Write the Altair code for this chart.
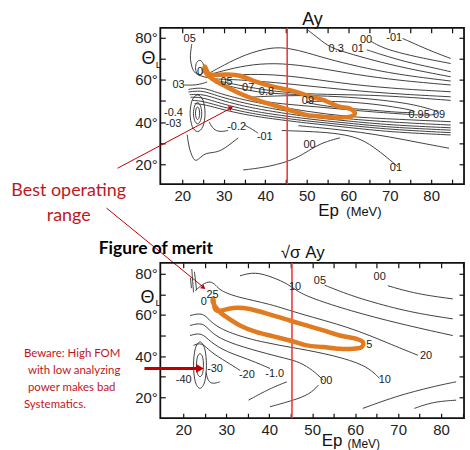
import altair as alt
import pandas as pd

# ===================== TOP PANEL: Ay  (x = Ep [MeV], y = theta_L [deg]) =====================
A_m01 = [(73.1, 79.7), (77.0, 76.3), (80.5, 73.3), (84.7, 70.2)]
A_00 = [(65.5, 78.3), (68.0, 75.5), (72.0, 73.0), (78.0, 70.3), (84.7, 67.8)]
A_01 = [(64.5, 74.3), (68.0, 72.0), (74.0, 68.5), (80.0, 66.0), (84.7, 63.9)]
A_03 = [(50.3, 83.6), (53.0, 79.5), (55.5, 75.5), (59.5, 73.0), (66.0, 69.3), (74.0, 65.5), (84.7, 61.5)]
A_fan1 = [(26.3, 63.0), (30.0, 67.0), (35.0, 72.0), (41.5, 75.7), (46.0, 75.0), (50.0, 73.0),
          (55.0, 70.0), (62.0, 66.5), (72.0, 62.5), (84.7, 59.5)]
A_fan2 = [(26.5, 62.5), (31.0, 65.0), (37.0, 67.5), (44.0, 68.0), (52.0, 66.0), (62.0, 62.5),
          (72.0, 59.8), (84.7, 57.6)]
A_fan3 = [(27.0, 61.5), (33.0, 62.5), (40.0, 62.8), (48.0, 61.5), (58.0, 58.5), (70.0, 56.0), (84.7, 54.4)]
A_fan4 = [(27.5, 60.5), (35.0, 60.0), (45.0, 58.3), (55.0, 56.2), (65.0, 54.3), (75.0, 53.0), (84.7, 52.0)]
A_in05 = [(27.5, 60.0), (31.0, 58.6), (36.0, 56.6), (42.0, 54.6), (50.0, 53.3), (60.0, 53.0),
          (70.0, 52.5), (84.7, 50.3)]
A_in07 = [(28.0, 58.5), (33.0, 56.3), (38.0, 54.2), (44.0, 53.3), (50.0, 53.0)]
A_b1 = [(21.5, 55.5), (24.5, 56.5), (27.0, 55.0), (30.0, 53.0), (35.0, 50.5), (40.0, 48.5), (50.0, 45.0),
        (60.0, 42.5), (70.0, 41.5), (84.7, 40.2)]
A_b2 = [(21.5, 54.3), (24.5, 55.0), (27.0, 53.5), (30.0, 51.5), (35.0, 49.0), (40.0, 47.0), (50.0, 43.5),
        (60.0, 41.5), (70.0, 40.0), (84.7, 38.6)]
A_b3 = [(21.8, 53.0), (24.5, 53.3), (27.0, 52.0), (30.0, 50.0), (35.0, 47.5), (40.0, 45.6), (50.0, 42.5),
        (60.0, 40.5), (70.0, 38.6), (84.7, 37.3)]
A_b4 = [(22.0, 51.8), (24.5, 51.8), (27.0, 50.3), (30.0, 48.5), (35.0, 46.0), (40.0, 44.2), (50.0, 41.5),
        (60.0, 39.5), (70.0, 37.5), (84.7, 36.2)]
A_b5 = [(22.5, 50.3), (25.0, 50.0), (30.0, 47.0), (35.0, 44.8), (40.0, 43.0), (50.0, 40.5), (60.0, 38.5),
        (70.0, 36.5), (84.7, 35.0)]
A_b6 = [(23.0, 48.8), (25.5, 48.3), (30.0, 45.8), (35.0, 43.6), (40.0, 42.0), (50.0, 39.5), (60.0, 37.5),
        (70.0, 35.3), (84.7, 33.9)]
A_m02 = [(26.5, 40.0), (27.5, 36.5), (29.0, 35.3), (31.0, 36.0)]
A_m01b = [(35.0, 38.6), (37.0, 36.5), (38.3, 34.7)]
A_00b = [(34.7, 17.3), (40.0, 18.5), (45.5, 21.2), (49.0, 24.5), (52.0, 28.5), (55.0, 31.0), (58.0, 32.5)]
A_01b = [(44.0, 36.0), (52.0, 35.5), (58.0, 34.5), (62.5, 32.5), (66.0, 28.5), (69.5, 23.0), (72.0, 18.8)]
A_rt = [(48.0, 38.3), (56.0, 36.8), (63.0, 35.2), (70.0, 33.0), (77.0, 30.3), (84.3, 27.6)]
A_05l = [(22.3, 77.0), (22.0, 73.0), (21.9, 70.0), (22.3, 66.0), (23.0, 63.0), (25.0, 61.5), (27.0, 60.8)]
A_03l = [(20.5, 57.6), (22.5, 57.5), (24.0, 57.8), (26.0, 59.0)]
A_bl = [(21.2, 34.0), (21.6, 28.0), (22.5, 23.0), (23.3, 21.2), (24.5, 23.5), (25.7, 25.3), (27.5, 25.5),
        (29.5, 26.5), (31.5, 29.5), (33.5, 32.5)]
top_curves = [A_m01, A_00, A_01, A_03, A_fan1, A_fan2, A_fan3, A_fan4, A_in05, A_in07, A_b1, A_b2, A_b3,
              A_b4, A_b5, A_b6, A_m02, A_m01b, A_00b, A_01b, A_rt, A_05l, A_03l, A_bl]

A_loop09 = [(36.0, 51.5), (45.0, 52.5), (55.0, 52.3), (65.0, 51.0), (74.0, 48.8), (80.0, 46.0), (81.5, 44.3),
            (79.0, 43.3), (72.0, 44.0), (62.0, 45.5), (52.0, 47.3), (42.0, 49.2)]
A_loop095 = [(50.0, 49.6), (58.0, 49.7), (66.0, 48.5), (73.0, 46.5), (76.0, 45.0), (73.0, 44.6), (65.0, 45.8),
             (56.0, 47.3)]
A_oval06 = [(24.2, 69.3), (24.9, 68.3), (25.2, 65.8), (24.9, 63.3), (24.2, 62.3), (23.5, 63.3), (23.2, 65.8),
            (23.5, 68.3)]
A_oval_in = [(23.7, 47.2), (24.05, 46.3), (24.2, 44.2), (24.05, 42.1), (23.7, 41.2), (23.35, 42.1),
             (23.2, 44.2), (23.35, 46.3)]
A_oval_mid = [(23.7, 49.2), (24.4, 47.7), (24.7, 44.2), (24.4, 40.7), (23.7, 39.2), (23.0, 40.7), (22.7, 44.2),
              (23.0, 47.7)]
A_oval_out = [(23.7, 52.9), (25.0, 50.4), (25.5, 44.2), (25.0, 38.0), (23.7, 35.5), (22.4, 38.0), (21.9, 44.2),
              (22.4, 50.4)]
top_loops = [A_loop09, A_loop095, A_oval06, A_oval_in, A_oval_mid, A_oval_out]

A_orange = [(25.5, 66.3), (26.3, 63.1), (27.9, 62.3), (30.7, 62.6), (33.9, 62.0), (37.9, 59.1), (41.9, 56.8),
            (45.9, 55.2), (49.9, 52.8), (53.9, 50.5), (57.9, 47.3), (59.9, 46.8), (61.5, 44.9), (61.1, 43.0),
            (57.9, 42.1), (53.9, 42.6), (49.9, 43.4), (45.9, 45.7), (41.9, 48.1), (37.9, 50.5), (33.9, 53.6),
            (29.9, 57.6), (27.1, 60.7), (25.5, 63.9)]

top_label_text = ["05", "03", "-0.4", "-03", "0", "05", "07", "0.8", "09", "-0.2", "-01", "00",
                  "0.3", "01", "00", "-01", "0.95", "09", "01"]
top_label_ep = [21.8, 19.1, 17.9, 17.9, 24.3, 30.7, 35.9, 40.3, 50.3, 33.1, 39.9, 50.7,
                57.1, 62.3, 64.3, 71.1, 77.1, 81.9, 71.5]
top_label_th = [79.2, 57.6, 44.1, 38.9, 63.6, 59.1, 56.3, 54.1, 50.1, 37.8, 33.1, 29.1,
                74.9, 74.9, 78.9, 79.7, 43.3, 43.3, 18.1]

# ===================== BOTTOM PANEL: sqrt(sigma) Ay =====================
B_10 = [(33.2, 79.0), (36.7, 81.1), (41.0, 78.2), (44.4, 75.0), (46.5, 71.5), (50.0, 68.0), (58.7, 62.1),
        (70.3, 55.7), (82.7, 50.0)]
B_05 = [(52.9, 74.5), (57.0, 71.0), (62.6, 67.0), (72.7, 61.3), (82.7, 58.1)]
B_00 = [(67.6, 74.2), (74.2, 70.2), (82.7, 67.8)]
B_20 = [(22.8, 71.8), (24.5, 75.0), (26.3, 76.6), (27.6, 74.5), (28.6, 71.8), (32.5, 68.6), (40.2, 65.4),
        (47.1, 60.5), (58.7, 54.1), (68.0, 46.0), (74.6, 40.4)]
B_10low = [(21.6, 59.7), (24.7, 61.3), (26.3, 56.5), (30.1, 51.6), (37.9, 46.8), (47.1, 43.6), (54.9, 40.4),
           (62.6, 35.6), (65.7, 29.1)]
B_00low = [(21.6, 54.9), (24.7, 56.5), (26.3, 51.6), (30.1, 46.8), (37.9, 42.0), (44.0, 38.8), (47.1, 37.1),
           (50.2, 33.1), (52.6, 28.3)]
B_m10 = [(21.6, 50.0), (24.3, 51.6), (26.3, 46.8), (30.1, 42.0), (34.8, 38.8), (40.2, 34.0)]
B_m20 = [(22.4, 45.2), (24.3, 46.8), (26.3, 42.0), (30.1, 37.2), (33.2, 33.1)]
B_bl = [(25.3, 32.0), (25.8, 27.5), (27.0, 26.5), (28.5, 27.5)]
B_bot1 = [(35.2, 18.6), (40.2, 24.3), (44.1, 27.5)]
B_00bot = [(40.2, 15.4), (45.6, 18.5), (49.5, 21.5), (51.5, 26.0)]
B_br1 = [(61.8, 14.6), (70.3, 21.1), (79.6, 25.9), (83.5, 27.5)]
B_br2 = [(73.8, 14.6), (78.1, 17.8), (83.5, 18.6)]
B_s1 = [(22.0, 82.3), (22.2, 76.0), (22.4, 71.0)]
B_s2 = [(22.6, 81.0), (22.9, 76.0), (23.1, 72.0)]
B_s3 = [(21.7, 78.0), (21.9, 73.0)]
bot_curves = [B_10, B_05, B_00, B_20, B_10low, B_00low, B_m10, B_m20, B_bl, B_bot1, B_00bot,
              B_br1, B_br2, B_s1, B_s2, B_s3]

B_oval_out = [(23.9, 46.9), (25.0, 43.6), (25.4, 35.6), (25.0, 27.6), (23.9, 24.3), (22.8, 27.6), (22.4, 35.6),
              (22.8, 43.6)]
B_oval_in = [(23.9, 41.2), (24.5, 39.6), (24.7, 35.6), (24.5, 31.6), (23.9, 30.0), (23.3, 31.6), (23.1, 35.6),
             (23.3, 39.6)]
bot_loops = [B_oval_out, B_oval_in]

B_orange = [(27.0, 67.8), (27.4, 62.9), (28.6, 62.1), (31.7, 63.4), (35.5, 62.9), (41.0, 59.7), (44.8, 57.3),
            (48.7, 54.9), (52.6, 52.5), (56.4, 50.0), (60.3, 48.4), (61.8, 46.8), (61.5, 44.4), (59.5, 43.6),
            (56.4, 43.6), (52.6, 44.4), (48.7, 45.2), (44.8, 47.6), (41.0, 49.6), (37.1, 51.6), (33.2, 54.9),
            (30.1, 58.9), (28.2, 62.1), (26.9, 66.1)]

bot_label_text = ["10", "05", "00", "25", "0", "5", "20", "10", "00", "-1.0", "-20", "-30", "-40"]
bot_label_ep = [46.0, 51.8, 65.7, 26.8, 24.8, 63.3, 76.5, 66.9, 53.3, 41.3, 34.8, 27.4, 20.1]
bot_label_th = [73.7, 76.3, 78.2, 69.6, 66.5, 45.2, 39.9, 28.6, 28.0, 31.5, 30.7, 33.9, 28.3]

RED_LINE_EP = [45.3]

# ===================== helpers =====================
def curves_df(curves):
    rows = []
    for cid, pts in enumerate(curves):
        for k, (e, t) in enumerate(pts):
            rows.append({"cid": cid, "k": k, "ep": e, "th": t})
    return pd.DataFrame(rows)


def labels_df(texts, eps, ths):
    return pd.DataFrame({"txt": texts, "ep": eps, "th": ths})


INK = "#2b2b2b"
RED_TXT = "#c0161e"
ARROW_RED = "#c00000"
ORANGE = "#e27a1f"
LINE_RED = "#ee3b3b"


def panel(curves, loops, orange, lab, xdom, ydom, w, h, anchor, arrows, heads, notes_c, notes_l,
          bold_notes, black_notes):
    sx = alt.Scale(domain=xdom, nice=False, zero=False)
    sy = alt.Scale(domain=ydom, nice=False, zero=False)
    cdf = curves_df(curves)
    xticks = list(range(20, int(xdom[1]) + 1, 5))
    yticks = list(range(20, 81, 10))

    def X(axis=None):
        return alt.X("ep:Q", scale=sx, axis=axis)

    def Y(axis=None):
        return alt.Y("th:Q", scale=sy, axis=axis)

    common_ax = dict(domain=False, grid=False, title=None, tickSize=5, offset=-5, tickColor="#111",
                     tickWidth=1.2, labelFont="Liberation Sans", labelFontSize=15, labelColor="#222",
                     labelOverlap=False)
    tick_only = {k: v for k, v in common_ax.items() if not k.startswith("label")}
    ax_b = alt.Axis(orient="bottom", values=xticks,
                    labelExpr="datum.value % 10 == 0 ? '' + datum.value : ''", labelPadding=4, **common_ax)
    ax_l = alt.Axis(orient="left", values=yticks,
                    labelExpr="datum.value % 20 == 0 ? datum.value + '°' : ''", labelPadding=3, **common_ax)
    ax_t = alt.Axis(orient="top", values=xticks, labels=False, **tick_only)
    ax_r = alt.Axis(orient="right", values=yticks, labels=False, **tick_only)

    lines = alt.Chart(cdf).mark_line(interpolate="basis", color=INK, strokeWidth=0.9).encode(
        x=X(ax_b), y=Y(ax_l), detail="cid:N", order="k:Q")
    mirror = alt.Chart(cdf).mark_point(opacity=0).encode(x=X(ax_t), y=Y(ax_r))
    layers = [lines, mirror]
    if loops:
        loops_chart = alt.Chart(curves_df(loops)).mark_line(
            interpolate="cardinal-closed", color=INK, strokeWidth=0.9).encode(
            x=X(), y=Y(), detail="cid:N", order="k:Q")
        layers.append(loops_chart)
    red = alt.Chart(pd.DataFrame({"ep": RED_LINE_EP})).mark_rule(color=LINE_RED, strokeWidth=1.6).encode(
        x=X(), y=alt.value(0), y2=alt.value(h))
    orange_chart = alt.Chart(curves_df([orange])).mark_line(
        interpolate="cardinal-closed", color=ORANGE, strokeWidth=4.5).encode(x=X(), y=Y(), order="k:Q")
    labels = alt.Chart(lab).mark_text(font="Liberation Sans", fontSize=11, color="#222",
                                      baseline="middle").encode(x=X(), y=Y(), text="txt:N")
    layers += [red, orange_chart, labels]

    if arrows is not None:
        arr = alt.Chart(arrows).mark_rule().encode(
            x=X(), y=Y(), x2="ep2:Q", y2="th2:Q",
            color=alt.Color("col:N", scale=None), strokeWidth=alt.StrokeWidth("sw:Q", scale=None))
        hd = alt.Chart(heads).mark_point(shape="triangle", filled=True, opacity=1).encode(
            x=X(), y=Y(), angle=alt.Angle("ang:Q", scale=None),
            size=alt.Size("sz:Q", scale=None), color=alt.Color("col:N", scale=None))
        layers += [arr, hd]
    if notes_c is not None:
        layers.append(alt.Chart(notes_c).mark_text(font="Lato", color=RED_TXT, baseline="alphabetic",
                                                   align="center").encode(
            x=X(), y=Y(), text="txt:N", size=alt.Size("fs:Q", scale=None)))
    if notes_l is not None:
        layers.append(alt.Chart(notes_l).mark_text(font="Lato", color=RED_TXT, baseline="alphabetic",
                                                   align="left").encode(
            x=X(), y=Y(), text="txt:N", size=alt.Size("fs:Q", scale=None)))
    if bold_notes is not None:
        layers.append(alt.Chart(bold_notes).mark_text(font="Lato", fontWeight="bold", color="#000",
                                                      baseline="alphabetic", align="center").encode(
            x=X(), y=Y(), text="txt:N", size=alt.Size("fs:Q", scale=None)))
    layers.append(alt.Chart(black_notes).mark_text(font="Liberation Sans", color="#111",
                                                   baseline="alphabetic", align="center").encode(
        x=X(), y=Y(), text="txt:N", size=alt.Size("fs:Q", scale=None)))
    # invisible layout anchor (page corner)
    layers.append(alt.Chart(pd.DataFrame({"a": [0]})).mark_rule(strokeOpacity=0, strokeWidth=0.01).encode(
        x=alt.value(anchor[0]), x2=alt.value(anchor[0]), y=alt.value(anchor[1]), y2=alt.value(anchor[1])))
    return alt.layer(*layers).properties(width=w, height=h)


# annotation tables (in each panel's own Ep / theta units)
top_arrows = pd.DataFrame({"ep": [4.4, 1.76], "th": [18.1, -0.79], "ep2": [32.0, 25.28],
                           "th2": [46.9, -38.6], "col": [ARROW_RED, ARROW_RED], "sw": [1.0, 1.0]})
top_heads = pd.DataFrame({"ep": [31.6, 25.0], "th": [46.7, -38.3], "ang": [62, 129],
                          "sz": [28, 28], "col": [ARROW_RED, ARROW_RED]})
top_notes_c = pd.DataFrame({"txt": ["Best operating", "range"], "ep": [-7.36, -7.36],
                            "th": [4.88, -6.93], "fs": [18, 18]})
top_black = pd.DataFrame({"txt": ["Ay", "Θ", "L", "Ep", "(MeV)"],
                          "ep": [51.4, 11.84, 14.3, 55.3, 63.8],
                          "th": [86.1, 67.5, 65.8, -4.6, -4.6],
                          "fs": [18, 18, 10, 17, 13]})

bot_arrows = pd.DataFrame({"ep": [10.97], "th": [34.03], "ep2": [23.2], "th2": [34.03],
                           "col": [ARROW_RED], "sw": [3.0]})
bot_heads = pd.DataFrame({"ep": [23.6], "th": [34.03], "ang": [90], "sz": [80], "col": [ARROW_RED]})
bot_notes_l = pd.DataFrame({"txt": ["Beware: High FOM", "with low analyzing", "power makes bad", "Systematics."],
                            "ep": [-17.07, -16.14, -16.14, -17.07],
                            "th": [39.35, 31.13, 22.9, 14.68], "fs": [11.5, 11.5, 11.5, 11.5]})
bot_bold = pd.DataFrame({"txt": ["Figure of merit"], "ep": [13.63], "th": [89.7], "fs": [17.5]})
bot_black = pd.DataFrame({"txt": ["√σ Ay", "Θ", "L", "Ep", "(MeV)"],
                          "ep": [47.8, 11.66, 14.2, 54.63, 62.0],
                          "th": [87.7, 66.0, 64.2, -3.71, -4.43],
                          "fs": [17, 18, 10, 17, 12]})

top = panel(top_curves, top_loops, A_orange, labels_df(top_label_text, top_label_ep, top_label_th),
            [14.72, 87.92], [10.55, 84.72], 305, 157, (-160, -26),
            top_arrows, top_heads, top_notes_c, None, None, top_black)
bottom = panel(bot_curves, bot_loops, B_orange, labels_df(bot_label_text, bot_label_ep, bot_label_th),
               [14.67, 85.33], [9.84, 85.32], 305, 156, (310, 188),
               bot_arrows, bot_heads, None, bot_notes_l, bot_bold, bot_black)

chart = alt.vconcat(top, bottom, spacing=79, bounds="flush").properties(
    padding=0, background="white"
).configure_view(stroke="#111", strokeWidth=1.8)

chart.save("out.html", embed_options={"renderer": "svg", "actions": False})
